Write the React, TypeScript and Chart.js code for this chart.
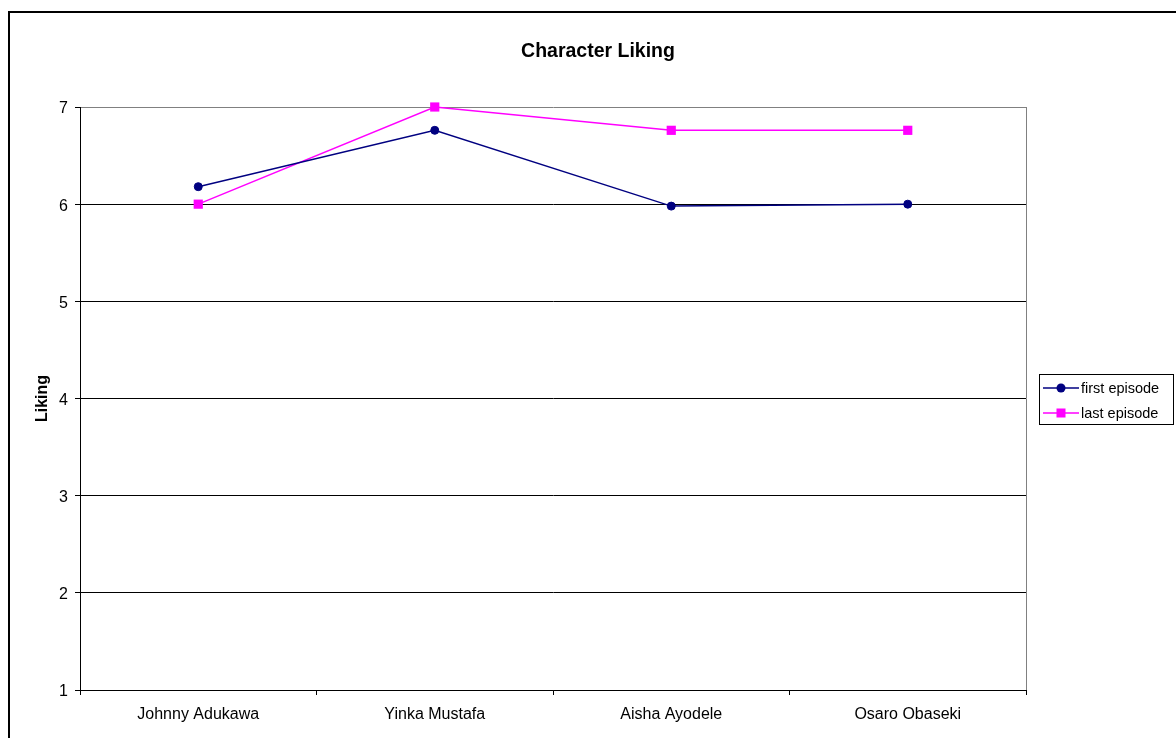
import React, { useEffect, useRef } from "react";
import { Chart, registerables } from "chart.js";

Chart.register(...registerables);

const categories = ["Johnny Adukawa", "Yinka Mustafa", "Aisha Ayodele", "Osaro Obaseki"];
const firstEpisode = [6.18, 6.76, 5.98, 6.0];
const lastEpisode = [6.0, 7.0, 6.76, 6.76];
const seriesNames = ["first episode", "last episode"];
const yTicks = [1, 2, 3, 4, 5, 6, 7];
const chartTitle = "Character Liking";
const yTitle = "Liking";

const FONT = "'Liberation Sans', Arial, sans-serif";
const NAVY = "#000080";
const MAGENTA = "#FF00FF";

// Frame around the whole chart, centred title, grey plot-area edge and the boxed legend.
const decorations = {
  id: "decorations",
  beforeDatasetsDraw(chart: any) {
    const { ctx, chartArea } = chart;
    ctx.save();
    ctx.strokeStyle = "#808080";
    ctx.lineWidth = 1;
    ctx.beginPath();
    ctx.moveTo(Math.round(chartArea.right) + 0.5, Math.round(chartArea.top));
    ctx.lineTo(Math.round(chartArea.right) + 0.5, Math.round(chartArea.bottom));
    ctx.stroke();
    ctx.restore();
  },
  afterDraw(chart: any) {
    const { ctx } = chart;
    ctx.save();
    // outer frame
    ctx.strokeStyle = "#000";
    ctx.lineWidth = 2;
    ctx.strokeRect(9, 12, 1300, 900);

    // title
    ctx.fillStyle = "#000";
    ctx.font = `bold 19.5px ${FONT}`;
    ctx.textAlign = "center";
    ctx.textBaseline = "middle";
    ctx.fillText(chartTitle, 598, 51.5);

    // legend
    ctx.lineWidth = 1;
    ctx.strokeStyle = "#000";
    ctx.strokeRect(1039.5, 374.5, 134, 50);
    const rows = [388, 413];
    chart.data.datasets.forEach((ds: any, i: number) => {
      const y = rows[i];
      ctx.strokeStyle = ds.borderColor;
      ctx.lineWidth = 1.5;
      ctx.beginPath();
      ctx.moveTo(1043, y);
      ctx.lineTo(1079, y);
      ctx.stroke();
      ctx.fillStyle = ds.backgroundColor;
      if (ds.pointStyle === "rect") {
        ctx.fillRect(1061 - 4.5, y - 4.5, 9, 9);
      } else {
        ctx.beginPath();
        ctx.arc(1061, y, 4.5, 0, Math.PI * 2);
        ctx.fill();
      }
      ctx.fillStyle = "#000";
      ctx.font = `14.5px ${FONT}`;
      ctx.textBaseline = "middle";
      ctx.textAlign = "left";
      ctx.fillText(ds.label, 1081, y + 1);
    });
    ctx.restore();
  },
};

export default function App() {
  const canvasRef = useRef<HTMLCanvasElement | null>(null);

  useEffect(() => {
    const canvas = canvasRef.current;
    if (!canvas) return;
    const chart = new Chart(canvas, {
      type: "line",
      data: {
        labels: categories,
        datasets: [
          {
            label: seriesNames[0],
            data: firstEpisode,
            borderColor: NAVY,
            backgroundColor: NAVY,
            borderWidth: 1.5,
            pointStyle: "circle",
            pointRadius: 4,
            pointBorderWidth: 1,
            pointBackgroundColor: NAVY,
            pointBorderColor: NAVY,
            tension: 0,
            clip: false,
          },
          {
            label: seriesNames[1],
            data: lastEpisode,
            borderColor: MAGENTA,
            backgroundColor: MAGENTA,
            borderWidth: 1.5,
            pointStyle: "rect",
            pointRadius: 6.5,
            pointBorderWidth: 0,
            pointBackgroundColor: MAGENTA,
            pointBorderColor: MAGENTA,
            tension: 0,
            clip: false,
          },
        ],
      },
      options: {
        responsive: false,
        animation: false,
        devicePixelRatio: 1,
        layout: { padding: { left: 0, right: 150, top: 107, bottom: 0 } },
        plugins: {
          legend: { display: false },
          tooltip: { enabled: false },
          title: { display: false },
        },
        scales: {
          x: {
            type: "category",
            offset: true,
            afterFit: (scale: any) => {
              scale.height = 48;
            },
            grid: {
              display: true,
              offset: true,
              drawOnChartArea: false,
              drawTicks: true,
              tickLength: 5,
              color: "#000",
              tickColor: "#000",
            },
            border: { display: true, color: "#000", width: 1 },
            ticks: {
              color: "#000",
              padding: 10,
              maxRotation: 0,
              autoSkip: false,
              font: { family: FONT, size: 16 },
            },
          },
          y: {
            min: yTicks[0],
            max: yTicks[yTicks.length - 1],
            afterFit: (scale: any) => {
              scale.width = 80;
            },
            afterBuildTicks: (scale: any) => {
              scale.ticks = yTicks.map((v) => ({ value: v }));
            },
            grid: {
              color: (c: any) => (c.tick && c.tick.value === 7 ? "#808080" : "#000"),
              tickColor: "#000",
              tickLength: 5,
              lineWidth: 1,
            },
            border: { display: true, color: "#000", width: 1 },
            ticks: {
              color: "#000",
              padding: 7,
              labelOffset: 2,
              font: { family: FONT, size: 16 },
            },
            title: {
              display: true,
              text: yTitle,
              color: "#000",
              font: { family: FONT, size: 16, weight: "bold", lineHeight: 1.2 },
              padding: { top: 33.4, bottom: 0 },
            },
          },
        },
      },
      plugins: [decorations],
    });
    return () => chart.destroy();
  }, []);

  return (
    <div style={{ position: "absolute", left: 0, top: 0, width: 1176, height: 738, background: "#fff" }}>
      <canvas ref={canvasRef} width={1176} height={738} style={{ display: "block" }} />
    </div>
  );
}
